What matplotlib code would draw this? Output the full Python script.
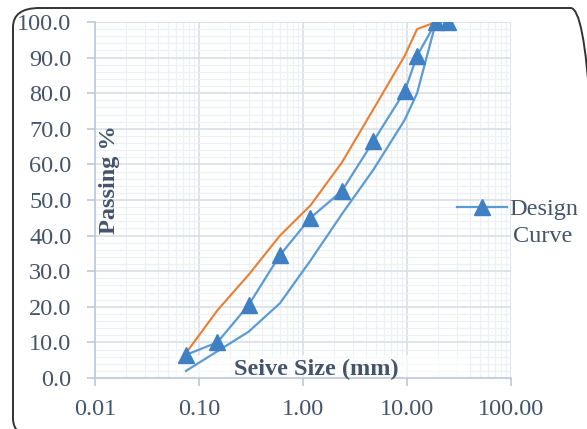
import matplotlib.pyplot as plt
from matplotlib.patches import FancyBboxPatch, Rectangle
from matplotlib.lines import Line2D
from matplotlib.ticker import FixedLocator, NullFormatter

# sieve sizes (mm)
sieve = [0.075, 0.15, 0.3, 0.6, 1.18, 2.36, 4.75, 9.5, 12.5, 19, 25]

# design gradation
design = [6.5, 10.0, 20.5, 34.5, 45.0, 52.5, 66.5, 80.5, 90.5, 100.0, 100.0]

# upper and lower specification limits
upper_sieve = [0.075, 0.15, 0.3, 0.6, 1.18, 2.36, 4.75, 9.5, 12.5, 19, 25]
upper = [7.0, 19.0, 29.0, 40.0, 48.5, 60.5, 75.5, 90.5, 98.0, 100.0, 100.0]
lower_sieve = [0.075, 0.15, 0.3, 0.6, 1.18, 2.36, 4.75, 9.5, 12.5, 19]
lower = [2.0, 7.5, 13.0, 21.0, 33.0, 46.0, 58.5, 72.5, 80.0, 100.0]

x_ticks = [0.01, 0.1, 1, 10, 100]
x_labels = ["0.01", "0.10", "1.00", "10.00", "100.00"]
y_ticks = list(range(0, 101, 10))

txt = "#44546A"
blue = "#5B9BD5"
orange = "#ED7D31"
fs = 17.5

plt.rcParams["font.family"] = ["Liberation Serif", "DejaVu Serif"]

fig = plt.figure(figsize=(5.87, 4.29), dpi=100)
ax = fig.add_axes([95 / 587, 1 - 378 / 429, 416 / 587, 356 / 429])

ax.plot(upper_sieve, upper, color=orange, lw=1.5, zorder=3)
ax.plot(lower_sieve, lower, color=blue, lw=1.6, zorder=3)
ax.plot(sieve, design, color=blue, lw=1.6, marker="^", ms=11,
        mfc="#3F80C4", mec="#3F80C4", zorder=4)

ax.set_xscale("log")
ax.set_xlim(0.01, 100)
ax.set_ylim(0, 100)
ax.xaxis.set_major_locator(FixedLocator(x_ticks))
ax.set_xticklabels(x_labels)
ax.xaxis.set_minor_locator(FixedLocator(
    [m * 10.0 ** e for e in range(-2, 2) for m in range(2, 10)]))
ax.xaxis.set_minor_formatter(NullFormatter())
ax.set_yticks(y_ticks)
ax.set_yticklabels([f"{v:.1f}" for v in y_ticks])
ax.yaxis.set_minor_locator(FixedLocator(range(0, 101, 2)))

ax.grid(which="major", color="#D9DFE8", lw=1.2, zorder=0)
ax.grid(which="minor", color="#EDF0F4", lw=0.9, zorder=0)
ax.set_axisbelow(True)

for s in ["top", "right"]:
    ax.spines[s].set_visible(False)
for s in ["left", "bottom"]:
    ax.spines[s].set_color("#BCC8DA")
    ax.spines[s].set_linewidth(1.2)

ax.tick_params(which="major", length=6, width=1.2, color="#BCC8DA",
               labelsize=fs, labelcolor=txt)
ax.tick_params(which="minor", length=0)
ax.tick_params(axis="y", pad=11)
ax.tick_params(axis="x", pad=9)

# axis titles sit inside the plot area
ax.add_patch(Rectangle((0.18, 0.0), 0.72, 0.065, transform=ax.transAxes,
                       facecolor="white", alpha=0.65, lw=0, zorder=1))
ax.text(0.531, 0.024, "Seive Size (mm)", transform=ax.transAxes,
        ha="center", va="center", fontsize=fs, fontweight="bold",
        color=txt, zorder=5)
ax.text(0.034, 0.556, "Passing %", transform=ax.transAxes, rotation=90,
        ha="center", va="center", fontsize=fs, fontweight="bold",
        color=txt, zorder=5)

# legend: handle next to the first line of the label
handle = Line2D([], [], color=blue, lw=1.6, marker="^", ms=11,
                mfc="#3F80C4", mec="#3F80C4")
fig.legend([handle], ["Design"], loc="center left",
           bbox_to_anchor=(457 / 587, 1 - 209 / 429), frameon=False,
           fontsize=fs, handlelength=2.05, handletextpad=0.1,
           labelcolor=txt, borderaxespad=0, borderpad=0)
fig.text(513 / 587, 1 - 237 / 429, "Curve", fontsize=fs, color=txt,
         ha="left", va="center")

# rounded outer frame
fig.patches.append(FancyBboxPatch((13 / 587, -0.02), 0.995, 1 - 8 / 429 + 0.02,
                                  boxstyle="round,pad=0,rounding_size=0.045",
                                  transform=fig.transFigure, fill=False,
                                  edgecolor="#333333", lw=1.4, clip_on=False))

fig.savefig("out.png", dpi=100)
